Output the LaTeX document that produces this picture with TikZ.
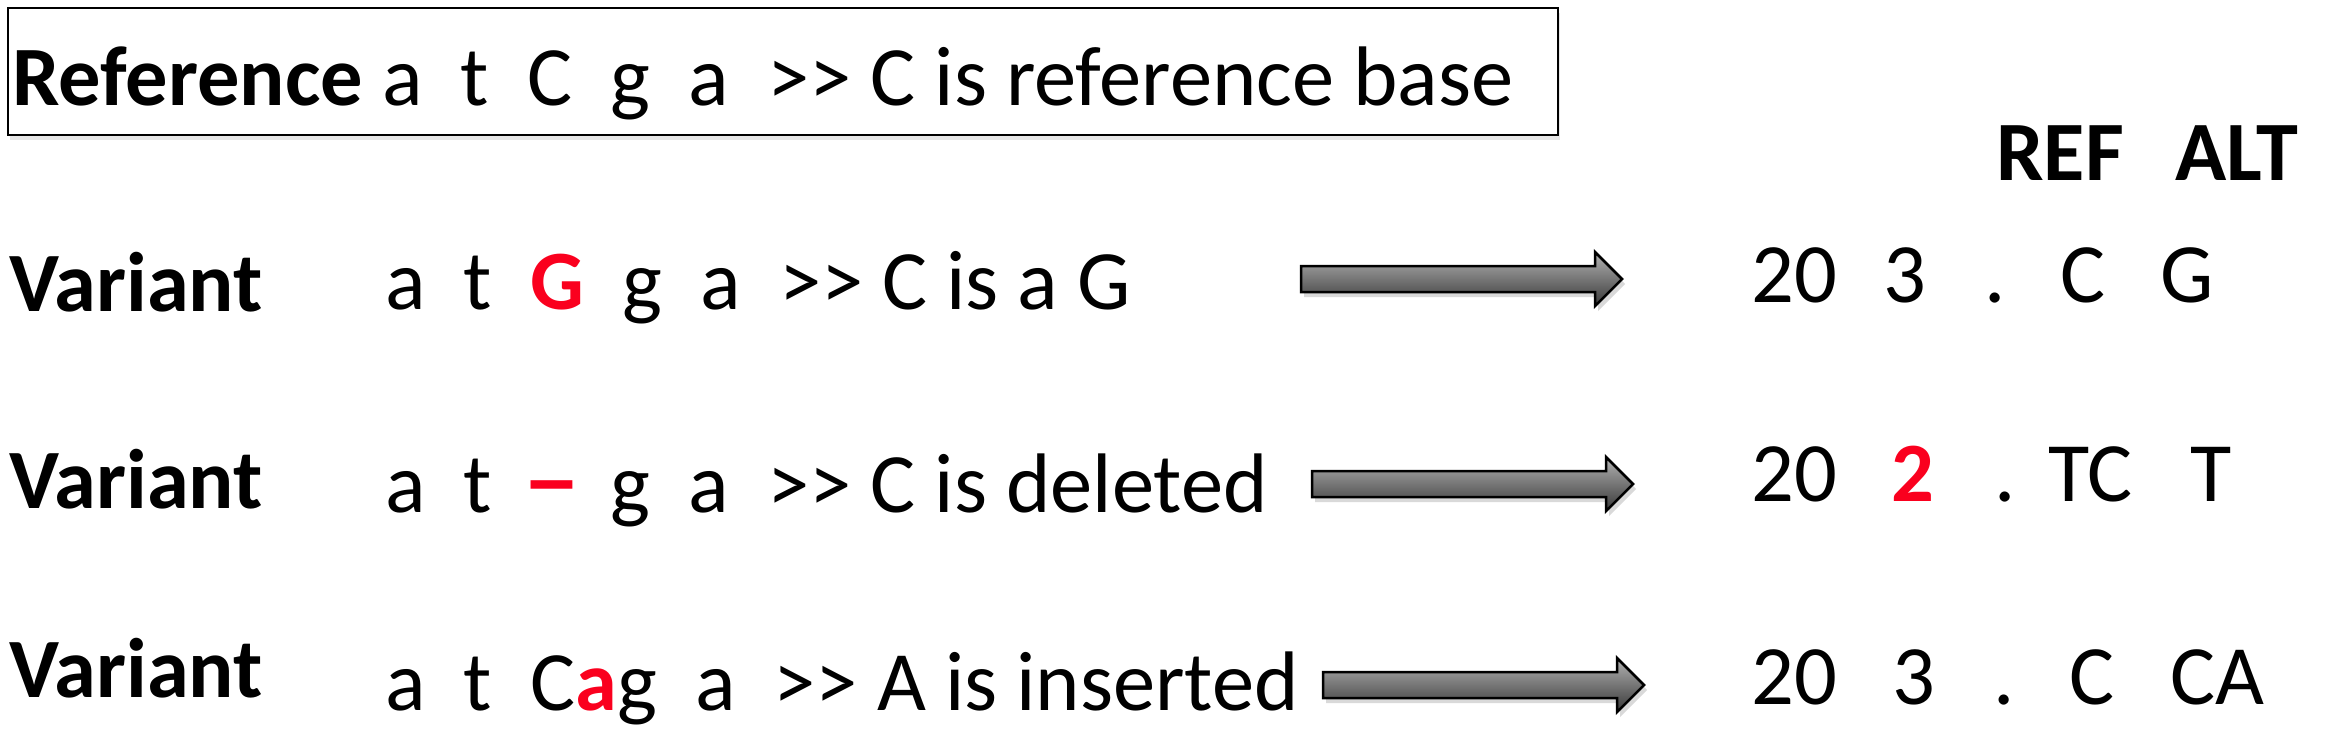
\documentclass[tikz,border=0pt]{standalone}
\usepackage{fontspec}
\usepackage{graphicx}
\setmainfont{Carlito}
\usetikzlibrary{shadows}
\definecolor{varred}{RGB}{250,0,30}
\newcommand{\hl}[1]{\textcolor{varred}{\textbf{#1}}}

\begin{document}
\begin{tikzpicture}[x=1pt,y=-1pt,
  every node/.style={inner sep=0pt, anchor=base west, font=\fontsize{84.5}{98}\selectfont},
  bigarrow/.style={draw=black, line width=2.5pt, line join=miter,
    top color=black!30, bottom color=black!78,
    drop shadow={shadow xshift=3pt, shadow yshift=-5pt, opacity=.3}}]
\useasboundingbox (0,0) rectangle (2331,731);
% Reference box
\coordinate (boxnw) at (8,8);
\coordinate (boxse) at (1558,135);
\draw[line width=1.7pt, fill=white, drop shadow={shadow xshift=2pt, shadow yshift=-5pt, opacity=.2}]
  (boxnw) rectangle (boxse);
\node (ref) at (12,105) {\textbf{Reference} a~~t~~C~~g~~a~~>{}> C is reference base};
% Header
\node (hdref) at (1996,180) {\textbf{REF}};
\node (hdalt) at (2175,180) {\textbf{ALT}};
% Variant rows
\node (lab1) at (9,311) {\textbf{Variant}};
\node (seq1) at (385,309) {a~~t~~\hl{G}~~g~~a~~>{}> C is a G};
\node (lab2) at (9,508) {\textbf{Variant}};
\node (seq2) at (385,512) {a~~t~~\hl{\makebox[0.5em]{\scalebox{1.4}[1.15]{--}}}~~g~~a~~>{}> C is deleted};
\node (lab3) at (9,697) {\textbf{Variant}};
\node (seq3) at (385,710) {a~~t~~C\hl{a}g~~a~~>{}> A is inserted};
% Arrows
\foreach \n/\x/\y in {1/1301/279, 2/1312/484, 3/1323/685} {
  \coordinate (arr\n) at (\x,\y);
  \filldraw[bigarrow] (arr\n) ++(0,-13) -- ++(294,0) -- ++(0,-14) -- ++(27,27)
    -- ++(-27,27) -- ++(0,-14) -- ++(-294,0) -- cycle;
}
% Output columns
\foreach \x/\t [count=\i] in {1751/20, 1883/3, 1984/., 2060/C, 2160/G}
  \node (outa\i) at (\x,302) {\t};
\foreach \x/\t [count=\i] in {1751/20, 1891/\hl{2}, 1994/., 2048/TC, 2190/T}
  \node (outb\i) at (\x,501) {\t};
\foreach \x/\t [count=\i] in {1751/20, 1892/3, 1993/., 2069/C, 2170/CA}
  \node (outc\i) at (\x,704) {\t};
\end{tikzpicture}
\end{document}
